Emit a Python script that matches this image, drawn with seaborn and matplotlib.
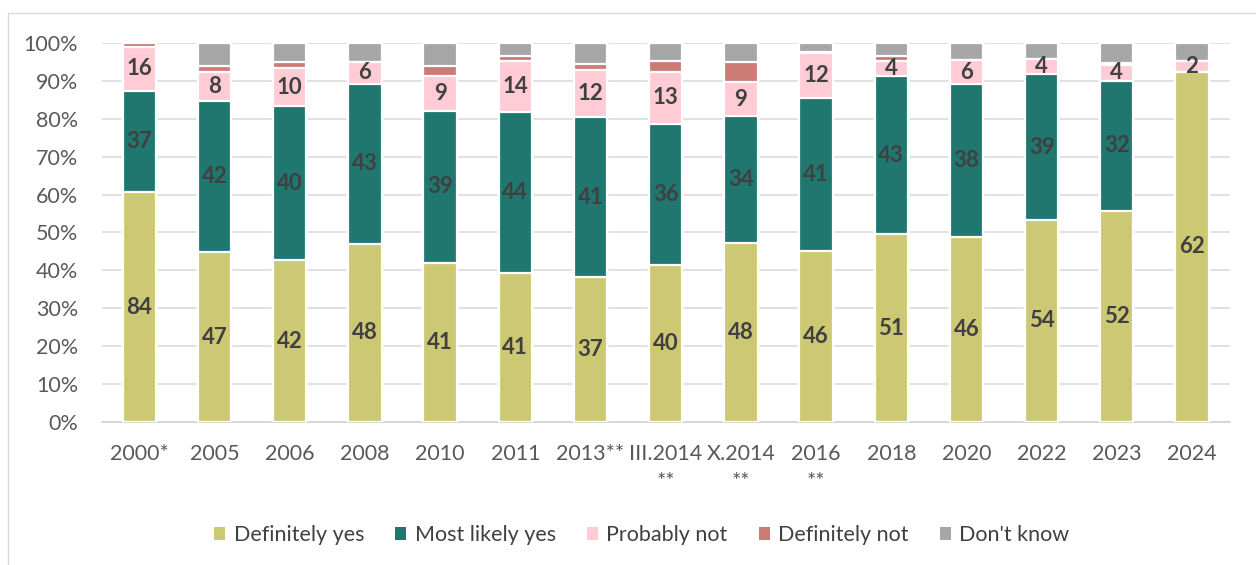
import matplotlib
matplotlib.use("Agg")
import matplotlib.pyplot as plt
from matplotlib.patches import Patch, Rectangle
import numpy as np
import pandas as pd
import seaborn as sns

# Survey waves
years = ["2000*", "2005", "2006", "2008", "2010", "2011", "2013**",
         "III.2014\n**", "X.2014\n**", "2016\n**", "2018", "2020",
         "2022", "2023", "2024"]

# Answer counts per wave (shares are taken of each wave's total)
definitely_yes = [84, 47, 42, 48, 41, 41, 37, 40, 48, 46, 51, 46, 54, 52, 62]
most_likely_yes = [37, 42, 40, 43, 39, 44, 41, 36, 34, 41, 43, 38, 39, 32, 0]
probably_not = [16, 8, 10, 6, 9, 14, 12, 13, 9, 12, 4, 6, 4, 4, 2]
definitely_not = [1.5, 1.5, 1.5, 0, 2.5, 1.5, 1.5, 3, 5.5, 0.4, 1.5, 0, 0, 0.3, 0]
dont_know = [0, 6.5, 5, 5, 6, 3.5, 5.5, 4.5, 5, 2.4, 3.5, 4.3, 4.3, 5, 3.1]

answers = ["Definitely yes", "Most likely yes", "Probably not",
           "Definitely not", "Don't know"]
colors = ["#CDC873", "#1F7770", "#FFCCD6", "#CD7B76", "#A6A6A6"]
labelled = ["Definitely yes", "Most likely yes", "Probably not"]

raw = pd.DataFrame(
    {
        "Definitely yes": definitely_yes,
        "Most likely yes": most_likely_yes,
        "Probably not": probably_not,
        "Definitely not": definitely_not,
        "Don't know": dont_know,
    },
    index=years,
)
share = raw.div(raw.sum(axis=1), axis=0) * 100
top = share.cumsum(axis=1)
bottom = top - share

sns.set_theme(style="white")
font = "Lato"
plt.rcParams["font.family"] = [font, "DejaVu Sans"]

TXT = 15.5

fig = plt.figure(figsize=(12.56, 5.65), dpi=100)
ax = fig.add_axes([0.081, 0.2531, 0.898, 0.6708])

# Stack by overdrawing cumulative totals, tallest first
for name, col in reversed(list(zip(answers, colors))):
    df = pd.DataFrame({"year": years, "value": top[name].values})
    sns.barplot(data=df, x="year", y="value", order=years, color=col,
                saturation=1, width=0.443, errorbar=None, ax=ax,
                edgecolor="white", linewidth=1.6, zorder=3)

# Value labels inside the three main segments
for name in labelled:
    for i, yr in enumerate(years):
        v = raw.loc[yr, name]
        if v <= 0:
            continue
        yc = (bottom.loc[yr, name] + top.loc[yr, name]) / 2
        ax.text(i, yc, f"{v:g}", ha="center", va="center",
                fontsize=16, fontweight="bold", color="#404040", zorder=5)

ax.set_ylim(0, 100)
ax.set_xlim(-0.5, len(years) - 0.5)
ax.set_yticks(np.arange(0, 101, 10))
ax.set_yticklabels([f"{t}%" for t in range(0, 101, 10)])
ax.yaxis.grid(True, color="#D9D9D9", linewidth=1.1, zorder=0)
ax.set_axisbelow(True)
ax.set_xlabel("")
ax.set_ylabel("")

for s in ["top", "right", "left"]:
    ax.spines[s].set_visible(False)
ax.spines["bottom"].set_color("#D0D0D0")
ax.spines["bottom"].set_linewidth(1.1)

ax.tick_params(axis="y", length=0, pad=17, labelsize=TXT, labelcolor="#595959")
ax.tick_params(axis="x", which="major", length=0, pad=16, labelsize=TXT,
               labelcolor="#595959")
ax.set_xticks(np.arange(-0.5, len(years), 1), minor=True)
ax.tick_params(axis="x", which="minor", length=6, width=1.1, color="#D0D0D0",
               direction="out")
for lbl in ax.get_xticklabels():
    lbl.set_linespacing(1.5)
    lbl.set_va("top")

handles = [Patch(facecolor=c, edgecolor="none", label=a)
           for a, c in zip(answers, colors)]
fig.legend(handles=handles, loc="center", bbox_to_anchor=(0.511, 0.053),
           ncol=5, frameon=False, fontsize=TXT, handlelength=0.5,
           handleheight=0.5, handletextpad=0.4, columnspacing=1.45,
           labelcolor="#404040")

# Chart frame
fig.patches.append(Rectangle((8 / 1256, -0.2), 1.2, 0.2 + 1 - 13 / 565,
                             transform=fig.transFigure, fill=False,
                             edgecolor="#D9D9D9", linewidth=1.0))

fig.savefig("out.png", dpi=100)
